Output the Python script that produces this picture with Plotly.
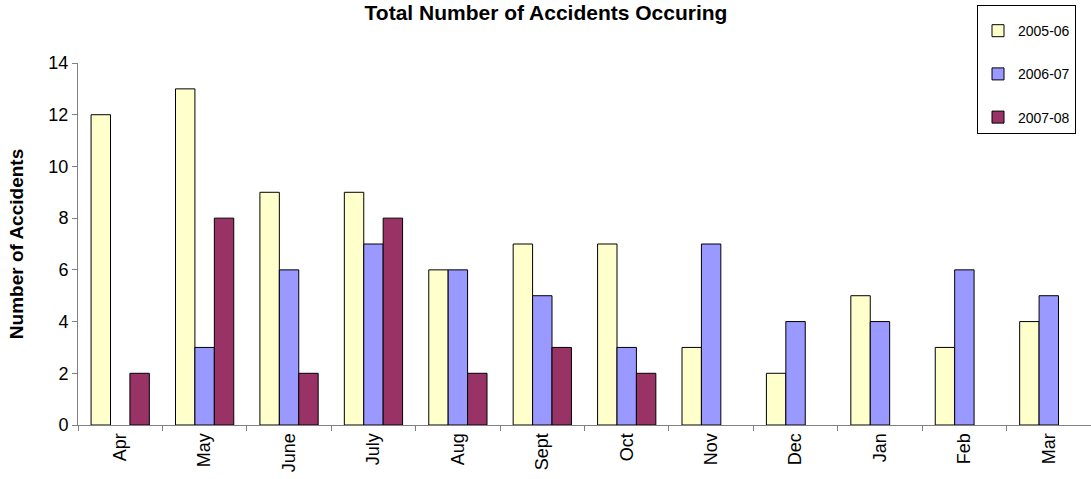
import plotly.graph_objects as go

months = ["Apr", "May", "June", "July", "Aug", "Sept", "Oct", "Nov", "Dec", "Jan", "Feb", "Mar"]
s2005 = [12, 13, 9, 9, 6, 7, 7, 3, 2, 5, 3, 4]
s2006 = [None, 3, 6, 7, 6, 5, 3, 7, 4, 4, 6, 5]
s2007 = [2, 8, 2, 8, 2, 3, 2, None, None, None, None, None]
series_names = ["2005-06", "2006-07", "2007-08"]
colors = ["#FFFFCC", "#9999FF", "#993366"]

W, H = 1091, 479

fig = go.Figure()
for name, vals, col in zip(series_names, [s2005, s2006, s2007], colors):
    fig.add_trace(go.Bar(
        x=months, y=vals, name=name, legendgroup=name,
        marker=dict(color=col, line=dict(color="black", width=1)),
    ))

fig.update_layout(
    width=W, height=H,
    margin=dict(l=78, r=0, t=63, b=54, autoexpand=False),
    paper_bgcolor="white", plot_bgcolor="white",
    barmode="group", bargap=0.31, bargroupgap=0,
    font=dict(family="Arial, Liberation Sans, sans-serif", color="black", size=18),
    title=dict(text="<b>Total Number of Accidents Occuring</b>", x=546/W, xref="container",
               xanchor="center", y=1 - 13/H, yanchor="middle", yref="container",
               font=dict(size=21)),
    legend=dict(x=977/W, xref="container", y=1 - 5/H, yref="container",
                xanchor="left", yanchor="top",
                bordercolor="black", borderwidth=1, bgcolor="white",
                title=dict(text=" ", font=dict(size=7)),
                font=dict(size=14), tracegroupgap=22, itemwidth=30),
    xaxis=dict(showline=True, linecolor="#808080", linewidth=1,
               ticks="outside", tickson="boundaries", ticklen=5, tickcolor="#808080",
               tickangle=-90, tickfont=dict(size=18), showgrid=False),
    yaxis=dict(range=[0, 14], dtick=2, showline=True, linecolor="#808080", linewidth=1,
               ticks="outside", ticklen=5, tickcolor="#808080", showgrid=False,
               zeroline=False, tickfont=dict(size=18),
               title=dict(text="<b>Number of Accidents</b>", font=dict(size=19), standoff=19)),
)

fig.write_html("out.html", config={"displayModeBar": False},
               post_script="document.body.style.margin='0px';")
